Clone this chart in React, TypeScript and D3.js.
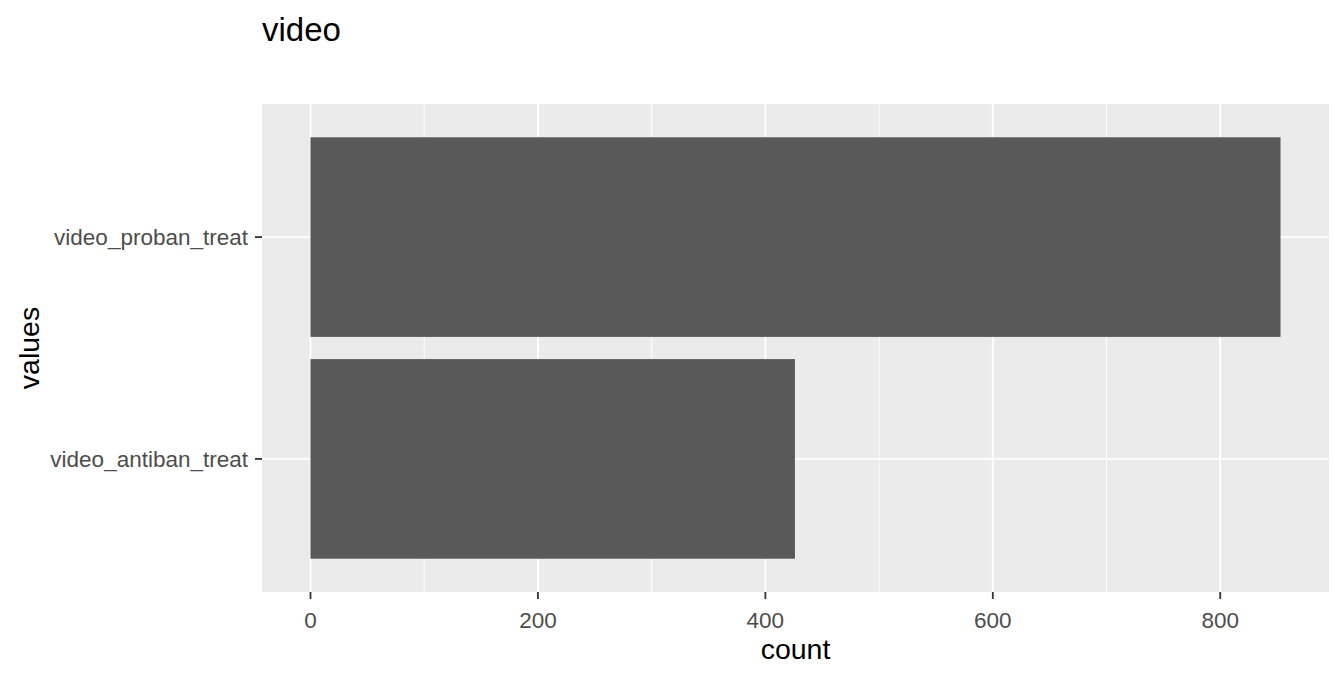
import { useEffect, useRef } from 'react'
import * as d3 from 'd3'

const categories = ['video_antiban_treat', 'video_proban_treat']
const counts = [426, 853]
const xTicks = [0, 200, 400, 600, 800]
const xMinor = [100, 300, 500, 700]
const title = 'video'
const xTitle = 'count'
const yTitle = 'values'

export default function App() {
  const ref = useRef<SVGSVGElement>(null)

  useEffect(() => {
    if (!ref.current) return
    const el = ref.current
    const width = 1344
    const height = 679
    const panel = { left: 262, top: 104, right: 1329, bottom: 592 }
    const font = '"Liberation Sans", Arial, sans-serif'

    d3.select(el).selectAll('*').remove()
    const svg = d3.select(el).attr('width', width).attr('height', height)

    const max = d3.max(counts)!
    const x = d3.scaleLinear()
      .domain([-0.05 * max, max * 1.05])
      .range([panel.left, panel.right])

    // discrete axis: positions 1..n, expanded by 0.6 units each side
    const n = categories.length
    const yPos = d3.scaleLinear()
      .domain([0.4, n + 0.6])
      .range([panel.bottom, panel.top])
    const barH = yPos(0) - yPos(0.9)

    svg.append('rect')
      .attr('x', panel.left).attr('y', panel.top)
      .attr('width', panel.right - panel.left).attr('height', panel.bottom - panel.top)
      .attr('fill', '#EBEBEB')

    svg.append('g').selectAll('line')
      .data(xMinor)
      .join('line')
      .attr('x1', d => x(d)).attr('x2', d => x(d))
      .attr('y1', panel.top).attr('y2', panel.bottom)
      .attr('stroke', '#fff').attr('stroke-width', 0.9)

    svg.append('g').selectAll('line')
      .data(xTicks)
      .join('line')
      .attr('x1', d => x(d)).attr('x2', d => x(d))
      .attr('y1', panel.top).attr('y2', panel.bottom)
      .attr('stroke', '#fff').attr('stroke-width', 1.8)

    svg.append('g').selectAll('line')
      .data(categories)
      .join('line')
      .attr('x1', panel.left).attr('x2', panel.right)
      .attr('y1', (_, i) => yPos(i + 1)).attr('y2', (_, i) => yPos(i + 1))
      .attr('stroke', '#fff').attr('stroke-width', 1.8)

    svg.append('g').selectAll('rect')
      .data(counts)
      .join('rect')
      .attr('x', x(0))
      .attr('y', (_, i) => yPos(i + 1) - barH / 2)
      .attr('width', d => x(d) - x(0))
      .attr('height', barH)
      .attr('fill', '#595959')

    // x axis ticks and labels
    const xa = svg.append('g')
    xa.selectAll('line')
      .data(xTicks)
      .join('line')
      .attr('x1', d => x(d)).attr('x2', d => x(d))
      .attr('y1', panel.bottom).attr('y2', panel.bottom + 7)
      .attr('stroke', '#333').attr('stroke-width', 1.8)
    xa.selectAll('text')
      .data(xTicks)
      .join('text')
      .attr('x', d => x(d)).attr('y', panel.bottom + 36)
      .attr('text-anchor', 'middle')
      .attr('font-family', font).attr('font-size', 22.5)
      .attr('fill', '#4D4D4D')
      .text(d => d)

    // y axis ticks and labels
    const ya = svg.append('g')
    ya.selectAll('line')
      .data(categories)
      .join('line')
      .attr('x1', panel.left - 7).attr('x2', panel.left)
      .attr('y1', (_, i) => yPos(i + 1)).attr('y2', (_, i) => yPos(i + 1))
      .attr('stroke', '#333').attr('stroke-width', 1.8)
    ya.selectAll('text')
      .data(categories)
      .join('text')
      .attr('x', panel.left - 14)
      .attr('y', (_, i) => yPos(i + 1))
      .attr('dy', '0.35em')
      .attr('text-anchor', 'end')
      .attr('font-family', font).attr('font-size', 22.5)
      .attr('fill', '#4D4D4D')
      .text(d => d)

    svg.append('text')
      .attr('x', (panel.left + panel.right) / 2).attr('y', 659)
      .attr('text-anchor', 'middle')
      .attr('font-family', font).attr('font-size', 28.5)
      .attr('fill', '#000')
      .text(xTitle)

    svg.append('text')
      .attr('transform', `translate(39,${(panel.top + panel.bottom) / 2}) rotate(-90)`)
      .attr('text-anchor', 'middle')
      .attr('font-family', font).attr('font-size', 28.5)
      .attr('fill', '#000')
      .text(yTitle)

    svg.append('text')
      .attr('x', panel.left).attr('y', 41)
      .attr('font-family', font).attr('font-size', 33)
      .attr('fill', '#000')
      .text(title)
  }, [])

  return <svg ref={ref} style={{ position: 'absolute', left: 0, top: 0, display: 'block' }} />
}
